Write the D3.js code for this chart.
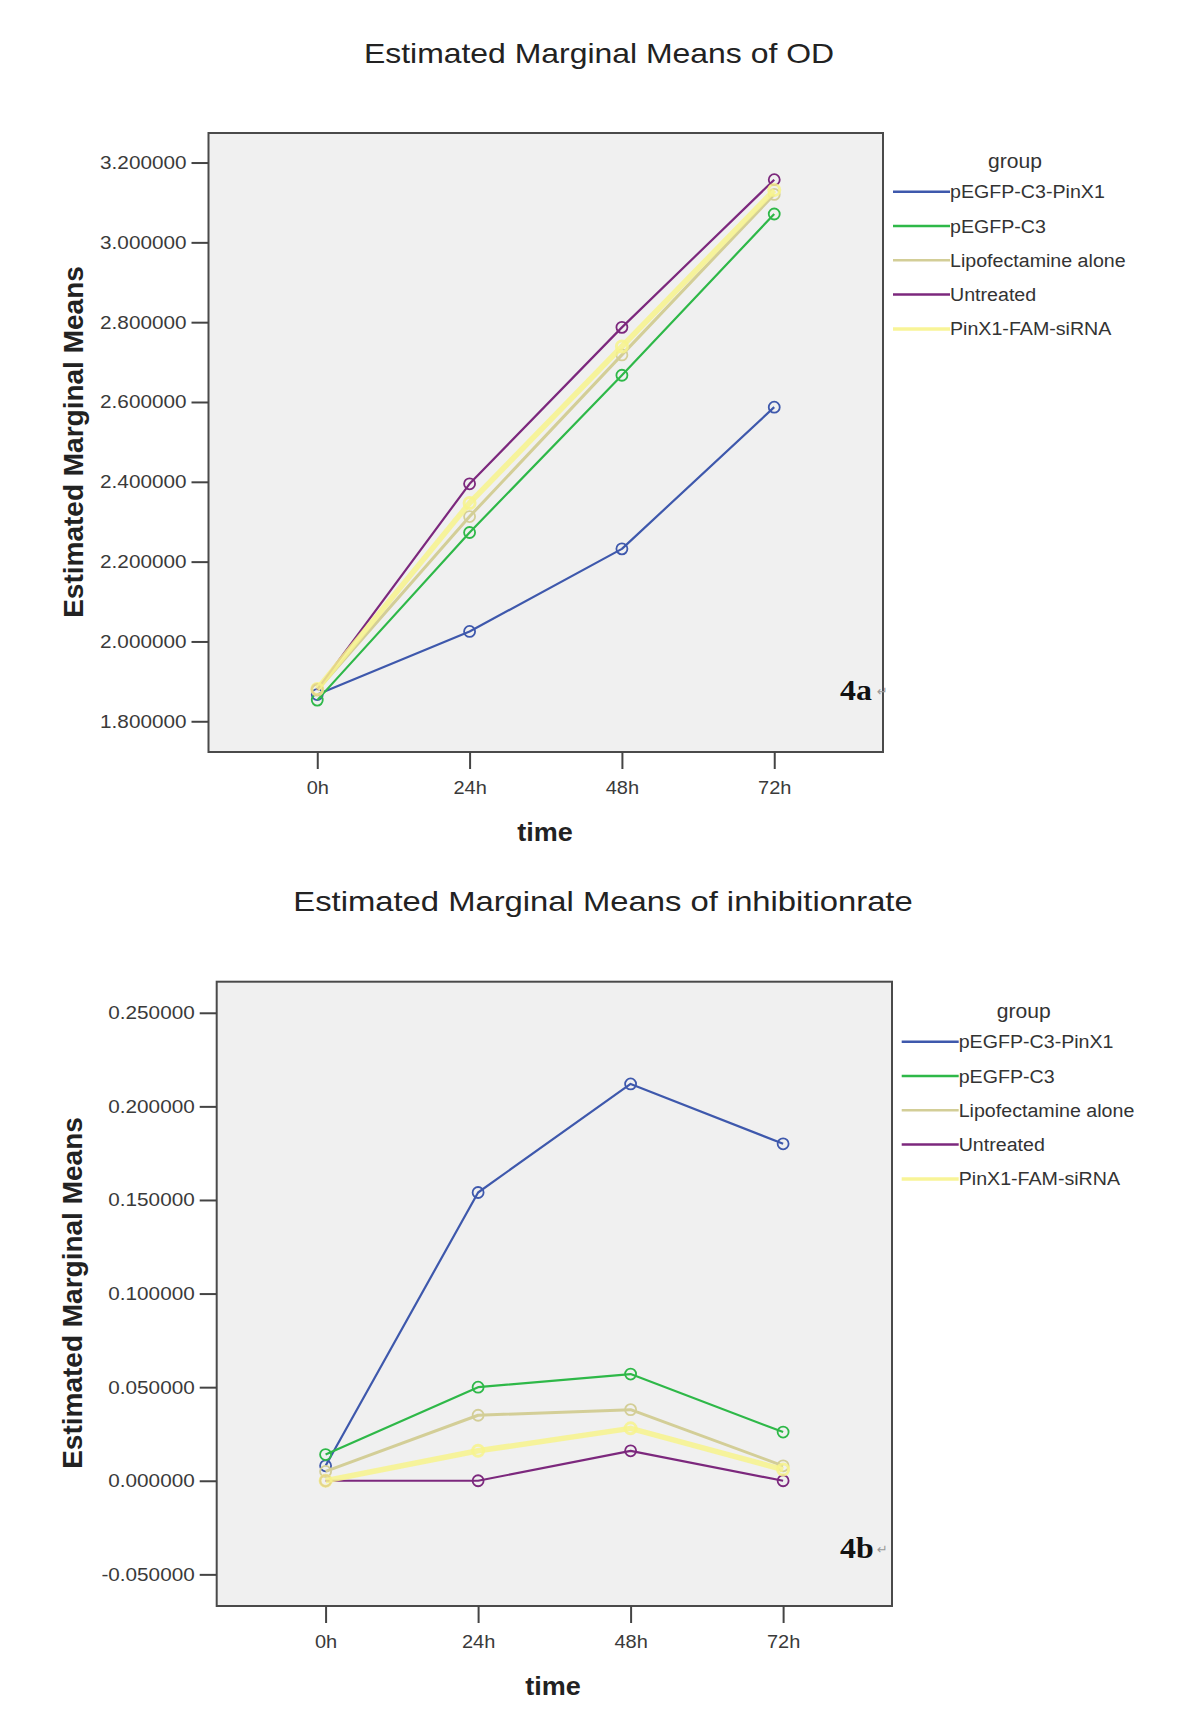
<!DOCTYPE html>
<html><head><meta charset="utf-8">
<script src="https://cdn.jsdelivr.net/npm/d3@7"></script>
<style>body{margin:0;background:#fff}svg{display:block}</style>
</head><body>
<svg id="c" width="1200" height="1736"></svg>
<script>
// ---- data ----
const timeLabels = ["0h", "24h", "48h", "72h"];
const groups = ["pEGFP-C3-PinX1", "pEGFP-C3", "Lipofectamine alone", "Untreated", "PinX1-FAM-siRNA"];
const groupColors = ["#3E58AC", "#2EB848", "#D3CE97", "#7C287D", "#F7F38C"];

const odPinX1     = [1.867, 2.025, 2.232, 2.587];
const odC3        = [1.853, 2.273, 2.667, 3.071];
const odLipo      = [1.878, 2.313, 2.718, 3.120];
const odUntreated = [1.880, 2.395, 2.787, 3.157];
const odSiRNA     = [1.881, 2.347, 2.739, 3.131];

const inhPinX1     = [0.008, 0.154, 0.212, 0.180];
const inhC3        = [0.014, 0.050, 0.057, 0.026];
const inhLipo      = [0.005, 0.035, 0.038, 0.008];
const inhUntreated = [0.000, 0.000, 0.016, 0.000];
const inhSiRNA     = [0.000, 0.016, 0.028, 0.006];

const odTicks  = [1.8, 2.0, 2.2, 2.4, 2.6, 2.8, 3.0, 3.2];
const inhTicks = [-0.05, 0.0, 0.05, 0.10, 0.15, 0.20, 0.25];

// ---- drawing ----
const svg = d3.select("#c");
svg.append("rect").attr("width", 1200).attr("height", 1736).attr("fill", "#fff");
const FONT = "'Liberation Sans', Arial, sans-serif";

function stretch(sel, f) {
  sel.each(function () {
    const L = this.getComputedTextLength();
    this.setAttribute("textLength", L * f);
    this.setAttribute("lengthAdjust", "spacingAndGlyphs");
  });
}

function drawChart(cfg) {
  const x = d3.scalePoint().domain(timeLabels).range([cfg.left, cfg.right]).padding(0.714);
  const y = d3.scaleLinear().domain(cfg.domain).range([cfg.bottom, cfg.top]);
  const g = svg.append("g");

  g.append("rect")
    .attr("x", cfg.left).attr("y", cfg.top)
    .attr("width", cfg.right - cfg.left).attr("height", cfg.bottom - cfg.top)
    .attr("fill", "#f0f0f0").attr("stroke", "#4a4a4a").attr("stroke-width", 2);

  // y axis
  const ya = g.append("g").attr("transform", `translate(${cfg.left},0)`)
    .call(d3.axisLeft(y).tickValues(cfg.ticks).tickFormat(d => d.toFixed(6)).tickSize(17).tickPadding(5));
  ya.select(".domain").remove();
  ya.selectAll("line").attr("stroke", "#444").attr("stroke-width", 2);
  ya.selectAll("text").attr("font-family", FONT).attr("font-size", 18.5).attr("fill", "#3a3a3a")
    .call(stretch, 1.12);

  // x axis
  const xa = g.append("g").attr("transform", `translate(0,${cfg.bottom})`)
    .call(d3.axisBottom(x).tickSize(17));
  xa.select(".domain").remove();
  xa.selectAll("line").attr("stroke", "#444").attr("stroke-width", 2);
  xa.selectAll("text").attr("font-family", FONT).attr("font-size", 18.5).attr("fill", "#3a3a3a")
    .attr("y", 42).attr("dy", 0).call(stretch, 1.08);

  // series
  const line = d3.line().x((d, i) => x(timeLabels[i])).y(d => y(d));
  cfg.series.forEach((vals, k) => {
    const isYellow = k === 4, isTan = k === 2;
    g.append("path").datum(vals)
      .attr("d", line).attr("fill", "none")
      .attr("stroke", groupColors[k])
      .attr("stroke-width", isYellow ? 5.5 : (isTan ? 3 : 2.2))
      .attr("stroke-opacity", isYellow ? 0.85 : 1)
      .attr("stroke-linejoin", "round");
    g.selectAll(null).data(vals).enter().append("circle")
      .attr("cx", (d, i) => x(timeLabels[i])).attr("cy", d => y(d))
      .attr("r", 5.5).attr("fill", "none")
      .attr("stroke", groupColors[k]).attr("stroke-width", isYellow ? 3 : 1.8)
      .attr("stroke-opacity", isYellow ? 0.85 : 1);
  });

  // title
  g.append("text").attr("x", cfg.titleX).attr("y", cfg.titleY).attr("text-anchor", "middle")
    .attr("font-family", FONT).attr("font-size", 28.5).attr("fill", "#222").text(cfg.title)
    .call(stretch, cfg.titleStretch);

  // y label
  g.append("text").attr("transform", `translate(${cfg.ylabX},${cfg.ylabY}) rotate(-90)`)
    .attr("text-anchor", "middle").attr("font-family", FONT).attr("font-weight", "bold")
    .attr("font-size", 28).attr("fill", "#222").text("Estimated Marginal Means");

  // x label
  g.append("text").attr("x", cfg.xlabX).attr("y", cfg.bottom + 89).attr("text-anchor", "middle")
    .attr("font-family", FONT).attr("font-weight", "bold").attr("font-size", 25).attr("fill", "#222")
    .text("time").call(stretch, 1.08);

  // legend
  g.append("text").attr("x", cfg.legX + 122).attr("y", cfg.legY - 24).attr("text-anchor", "middle")
    .attr("font-family", FONT).attr("font-size", 19.5).attr("fill", "#333").text("group")
    .call(stretch, 1.08);
  groups.forEach((name, k) => {
    const ly = cfg.legY + k * 34.3;
    g.append("line").attr("x1", cfg.legX).attr("x2", cfg.legX + 57).attr("y1", ly).attr("y2", ly)
      .attr("stroke", groupColors[k]).attr("stroke-width", k === 4 ? 3.5 : 2.5)
      .attr("stroke-opacity", k === 4 ? 0.9 : 1);
    g.append("text").attr("x", cfg.legX + 57).attr("y", ly + 6.5)
      .attr("font-family", FONT).attr("font-size", 18).attr("fill", "#333").text(name)
      .call(stretch, 1.09);
  });

  // panel tag
  const tag = g.append("text").attr("x", cfg.tagX).attr("y", cfg.tagY)
    .attr("font-family", "'Liberation Serif', 'Times New Roman', serif").attr("font-weight", "bold")
    .attr("font-size", 29).attr("fill", "#111").text(cfg.tag);
  tag.call(stretch, 1.1);
  g.append("text").attr("x", cfg.tagX + 37).attr("y", cfg.tagY - 4)
    .attr("font-family", "'DejaVu Sans', sans-serif").attr("font-size", 13).attr("fill", "#999").text("\u21B5");
}

drawChart({
  left: 208.5, right: 883, top: 133, bottom: 752,
  domain: [1.723, 3.274], ticks: odTicks,
  series: [odPinX1, odC3, odLipo, odUntreated, odSiRNA],
  title: "Estimated Marginal Means of OD", titleX: 599, titleY: 63, titleStretch: 1.12,
  ylabX: 83, ylabY: 442, xlabX: 545,
  legX: 893, legY: 191.7,
  tag: "4a", tagX: 840, tagY: 700
});

drawChart({
  left: 216.7, right: 892, top: 981.7, bottom: 1606,
  domain: [-0.0669, 0.2666], ticks: inhTicks,
  series: [inhPinX1, inhC3, inhLipo, inhUntreated, inhSiRNA],
  title: "Estimated Marginal Means of inhibitionrate", titleX: 603, titleY: 911, titleStretch: 1.15,
  ylabX: 82, ylabY: 1293, xlabX: 553,
  legX: 901.7, legY: 1041.7,
  tag: "4b", tagX: 840, tagY: 1558
});
</script>
</body></html>
